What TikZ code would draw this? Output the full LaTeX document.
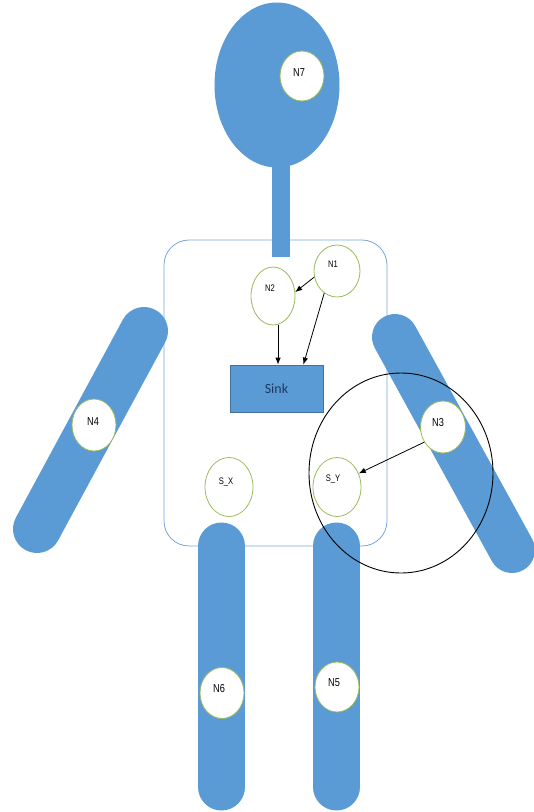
\documentclass[tikz,border=0pt]{standalone}
\usepackage{fontspec}
\usetikzlibrary{shapes.geometric,arrows.meta}
\newfontfamily\narrowsans[FakeStretch=0.8]{Liberation Sans}
\newfontfamily\sinkfont{Carlito}
\definecolor{bodyblue}{RGB}{91,155,213}
\definecolor{edgeblue}{RGB}{65,113,156}
\definecolor{trunkline}{RGB}{120,166,214}
\definecolor{nodegreen}{RGB}{155,187,89}
\definecolor{sinktext}{RGB}{32,56,100}
\tikzset{
  limb/.style={line width=#1, line cap=round, draw=bodyblue},
  sensor/.style={ellipse, draw=nodegreen, line width=0.8pt, fill=white, inner sep=0pt},
  tag/.style={font=\narrowsans\fontsize{11.5}{11.5}\selectfont, inner sep=0pt},
  smalltag/.style={font=\narrowsans\fontsize{9.5}{9.5}\selectfont, inner sep=0pt},
  link/.style={draw=black, line width=0.8pt, -{Latex[length=7pt,width=5.5pt]}},
}
\begin{document}
\begin{tikzpicture}[x=1pt,y=-1pt]
\useasboundingbox (0,0) rectangle (534,812);

% trunk outline
\draw[trunkline, line width=0.8pt, rounded corners=25pt] (164,240) rectangle (387,546);

% neck and head
\fill[bodyblue] (272,160) rectangle (290,257);
\fill[bodyblue] (277,85) ellipse [x radius=62.5, y radius=82.5];

% arms and legs
\coordinate (larmtop) at (144,331);
\coordinate (larmbot) at (37,529);
\coordinate (rarmtop) at (395,337);
\coordinate (rarmbot) at (512,550);
\coordinate (llegtop) at (221.5,546);
\coordinate (llegbot) at (221.5,787);
\coordinate (rlegtop) at (336.5,546);
\coordinate (rlegbot) at (336.5,787);
\draw[limb=48pt] (larmtop) -- (larmbot);
\draw[limb=46pt] (rarmtop) -- (rarmbot);
\draw[limb=47pt] (llegtop) -- (llegbot);
\draw[limb=47pt] (rlegtop) -- (rlegbot);

% sensor nodes
\node[sensor, minimum width=44pt, minimum height=50pt] (N7) at (302,76) {};
\node[tag] at (299,73) {N7};
\node[sensor, minimum width=46pt, minimum height=52pt] (N1) at (337,271) {};
\node[smalltag] at (333,264) {N1};
\node[sensor, minimum width=44pt, minimum height=58pt] (N2) at (273,296) {};
\node[smalltag] at (270,288) {N2};
\node[sensor, minimum width=45pt, minimum height=52pt] (N3) at (443,427) {};
\node[tag] at (438,423) {N3};
\node[sensor, minimum width=44pt, minimum height=52pt] (N4) at (94,425) {};
\node[tag] at (93,422) {N4};
\node[sensor, minimum width=48pt, minimum height=59pt] (SX) at (229,487) {};
\node[smalltag] at (226,482) {S\_X};
\node[sensor, minimum width=48pt, minimum height=59pt] (SY) at (337,487) {};
\node[smalltag] at (333,479) {S\_Y};
\node[sensor, minimum width=44pt, minimum height=51pt] (N6) at (222,693) {};
\node[tag] at (219,689) {N6};
\node[sensor, minimum width=44pt, minimum height=50pt] (N5) at (337,687) {};
\node[tag] at (334,683) {N5};

% sink
\node[draw=edgeblue, fill=bodyblue, line width=0.8pt, minimum width=93pt, minimum height=47pt,
      inner sep=0pt, font=\sinkfont\fontsize{14}{14}\selectfont, text=sinktext] (Sink) at (276.5,388.5) {Sink};

% links
\coordinate (sinkin) at ([xshift=-20pt]Sink.north east);
\draw[link] (N2.-80) -- (N2.-80 |- Sink.north);
\draw[link] (N1.240) -- (sinkin);
\draw[link] (N1.195) -- (N2.10);
\draw[link] (N3.219) -- (SY.32);

% range of N3
\draw[black, line width=0.9pt] (401,473) ellipse [x radius=92, y radius=100];
\end{tikzpicture}
\end{document}
